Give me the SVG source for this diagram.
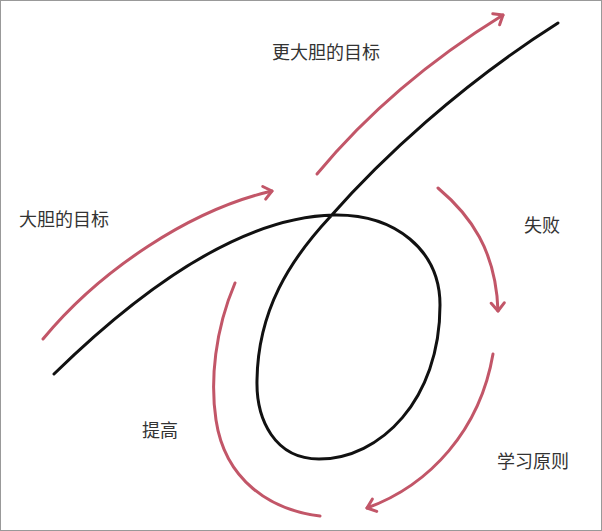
<svg xmlns="http://www.w3.org/2000/svg" width="602" height="531" viewBox="0 0 602 531">
<defs>
<style>
.blk{fill:none;stroke:#111;stroke-width:3;stroke-linecap:round;stroke-linejoin:round}
.red{fill:none;stroke:#c25668;stroke-width:3;stroke-linecap:round}
.lbl{font-family:"Noto Sans CJK SC","Noto Sans CJK JP",sans-serif;font-size:18px;fill:#333;dominant-baseline:central}
</style>
<marker id="ah" viewBox="-12 -9 14 18" refX="0" refY="0" markerWidth="14" markerHeight="18" markerUnits="userSpaceOnUse" orient="auto">
<path d="M-8,-6.5 L0,0 L-8,6.5" fill="none" stroke="#c25668" stroke-width="3" stroke-linecap="round" stroke-linejoin="round"/>
</marker>
</defs>
<rect x="0.5" y="0.5" width="601" height="530" fill="#fff" stroke="#999" stroke-width="1"/>
<g id="connectors">
<path class="blk" d="M54,374 C140,290 240,217 334,215 C395,214 440,250 440,305 C440,400 380,459 319,459 C275,459 256,420 257,380 C258,310 290,260 330,217 C380,160 460,85 558,23"/>
<path class="red" marker-end="url(#ah)" d="M43,339 C100,270 190,210 272,191"/>
<path class="red" marker-end="url(#ah)" d="M317,174 C370,110 430,60 503,15"/>
<path class="red" marker-end="url(#ah)" d="M438,188 C470,215 496,250 498,311"/>
<path class="red" marker-end="url(#ah)" d="M493,354 C480,430 430,485 367,508"/>
<path class="red" d="M235,283 C215,330 210,380 216,420 C225,480 270,510 320,516"/>
</g>
<g id="n1"><text class="lbl" x="19" y="218">大胆的目标</text></g>
<g id="n2"><text class="lbl" x="272" y="51">更大胆的目标</text></g>
<g id="n3"><text class="lbl" x="524" y="224">失败</text></g>
<g id="n4"><text class="lbl" x="497" y="460">学习原则</text></g>
<g id="n5"><text class="lbl" x="142" y="429">提高</text></g>
</svg>
